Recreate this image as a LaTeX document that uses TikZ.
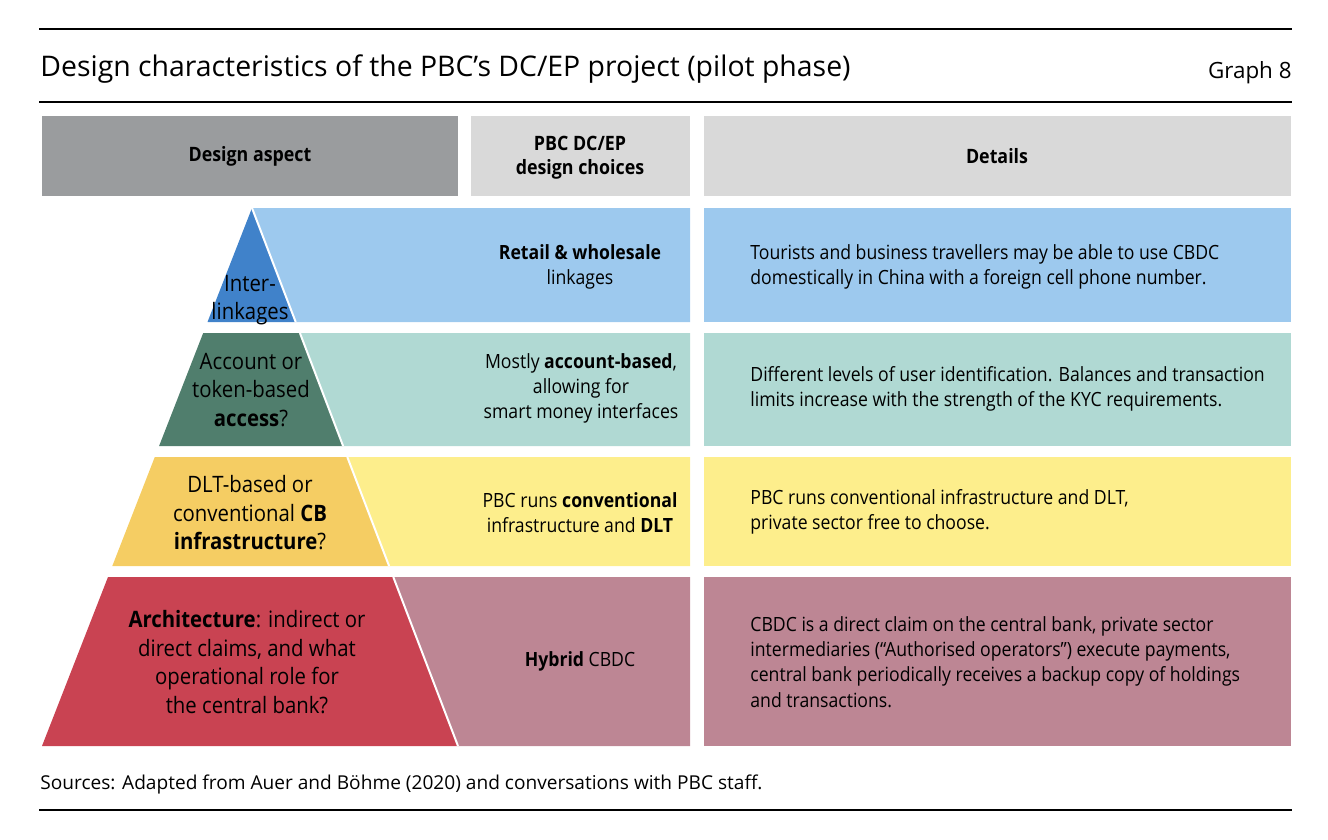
\documentclass[tikz,border=0pt]{standalone}
\usepackage{fontspec}
\setmainfont{Open Sans}
\newfontfamily\cellfont[FakeStretch=0.9]{Open Sans}
\usetikzlibrary{positioning}
\definecolor{hdgray}{HTML}{9A9C9E}
\definecolor{hlgray}{HTML}{D9D9D9}
\definecolor{linkdark}{HTML}{4082CA}
\definecolor{linklight}{HTML}{9DC9EE}
\definecolor{accdark}{HTML}{507E6D}
\definecolor{acclight}{HTML}{B0D9D3}
\definecolor{infdark}{HTML}{F5CD63}
\definecolor{inflight}{HTML}{FDEE8C}
\definecolor{archdark}{HTML}{C94352}
\definecolor{archlight}{HTML}{BD8694}

\begin{document}
\begin{tikzpicture}[
  x=0.5pt, y=-0.5pt,
  rule/.style={line width=#1, black},
  cut/.style={white, line width=1pt},
  head/.style={inner sep=0pt, align=center, font=\cellfont\fontsize{9.9}{12}\selectfont\bfseries},
  aspect/.style={inner sep=0pt, align=center, font=\cellfont\fontsize{11.3}{14.25}\selectfont},
  choice/.style={inner sep=0pt, align=center, font=\cellfont\fontsize{9.8}{12.5}\selectfont},
  detail/.style={inner sep=0pt, anchor=west, align=left, font=\cellfont\fontsize{9.8}{12.65}\selectfont}
]
  \useasboundingbox (0,0) rectangle (1328,840);

  % Titel und Linien
  \draw[rule=1.2pt] (39,29) -- (1292,29);
  \node[anchor=base west, inner sep=0pt, font=\fontsize{14.2}{17}\selectfont] (title) at (40,77)
    {Design characteristics of the PBC’s DC/EP project (pilot phase)};
  \node[anchor=base east, inner sep=0pt, font=\fontsize{11.2}{14}\selectfont] (graph) at (1292,79) {Graph 8};
  \draw[rule=0.6pt] (39,102) -- (1292,102);

  % Kopfzeile
  \fill[hdgray] (42,116) rectangle (458,196);
  \fill[hlgray] (471,116) rectangle (690,196);
  \fill[hlgray] (704,116) rectangle (1291,196);
  \node[head] (hdaspect) at (250,156) {Design aspect};
  \node[head] (hdchoice) at (580,158) {PBC DC/EP\\design choices};
  \node[head] (hddetail) at (997,156) {Details};

  % Ebene 1: Inter-linkages
  \fill[linklight] (252,208) -- (690,208) -- (690,322) -- (295.7,322) -- cycle;
  \fill[linkdark] (252,208) -- (295.7,322) -- (207.5,322) -- cycle;
  \draw[cut] (252,208) -- (295.7,322);
  \fill[linklight] (704,208) rectangle (1291,322);
  \node[aspect] (aspect1) at (250,300) {Inter-\\linkages};
  \node[choice] (choice1) at (580,266.5) {\textbf{Retail \& wholesale}\\linkages};
  \node[detail] (detail1) at (750,267)
    {Tourists and business travellers may be able to use CBDC\\domestically in China with a foreign cell phone number.};

  % Ebene 2: Zugang
  \fill[acclight] (299.9,333) -- (690,333) -- (690,446) -- (343.1,446) -- cycle;
  \fill[accdark] (203.2,333) -- (299.9,333) -- (343.1,446) -- (159.1,446) -- cycle;
  \draw[cut] (299.9,333) -- (343.1,446);
  \fill[acclight] (704,333) rectangle (1291,446);
  \node[aspect] (aspect2) at (251,390) {Account or\\token-based\\\textbf{access}?};
  \node[choice] (choice2) at (581,388) {Mostly \textbf{account-based},\\allowing for\\smart money interfaces};
  \node[detail] (detail2) at (750,389)
    {Different levels of user identification. Balances and transaction\\limits increase with the strength of the KYC requirements.};

  % Ebene 3: Infrastruktur
  \fill[inflight] (347.3,457) -- (690,457) -- (690,566) -- (389.1,566) -- cycle;
  \fill[infdark] (154.8,457) -- (347.3,457) -- (389.1,566) -- (112.3,566) -- cycle;
  \draw[cut] (347.3,457) -- (389.1,566);
  \fill[inflight] (704,457) rectangle (1291,566);
  \node[aspect] (aspect3) at (250,513) {DLT-based or\\conventional \textbf{CB}\\\textbf{infrastructure}?};
  \node[choice] (choice3) at (580,512.5) {PBC runs \textbf{conventional}\\infrastructure and \textbf{DLT}};
  \node[detail] (detail3) at (750,512)
    {PBC runs conventional infrastructure and DLT,\\private sector free to choose.};

  % Ebene 4: Architektur
  \fill[archlight] (393.3,577) -- (690,577) -- (690,746) -- (458,746) -- cycle;
  \fill[archdark] (108,577) -- (393.3,577) -- (458,746) -- (42,746) -- cycle;
  \draw[cut] (393.3,577) -- (458,746);
  \fill[archlight] (704,577) rectangle (1291,746);
  \node[aspect] (aspect4) at (247,662)
    {\textbf{Architecture}: indirect or\\direct claims, and what\\operational role for\\the central bank?};
  \node[choice] (choice4) at (580,661) {\textbf{Hybrid} CBDC};
  \node[detail] (detail4) at (750,662)
    {CBDC is a direct claim on the central bank, private sector\\intermediaries (“Authorised operators”) execute payments,\\central bank periodically receives a backup copy of holdings\\and transactions.};

  % Quellen
  \node[anchor=base west, inner sep=0pt, font=\fontsize{9.55}{12}\selectfont] (sources) at (40,789)
    {Sources: Adapted from Auer and Böhme (2020) and conversations with PBC staff.};
  \draw[rule=1pt] (39,810) -- (1292,810);
\end{tikzpicture}
\end{document}
